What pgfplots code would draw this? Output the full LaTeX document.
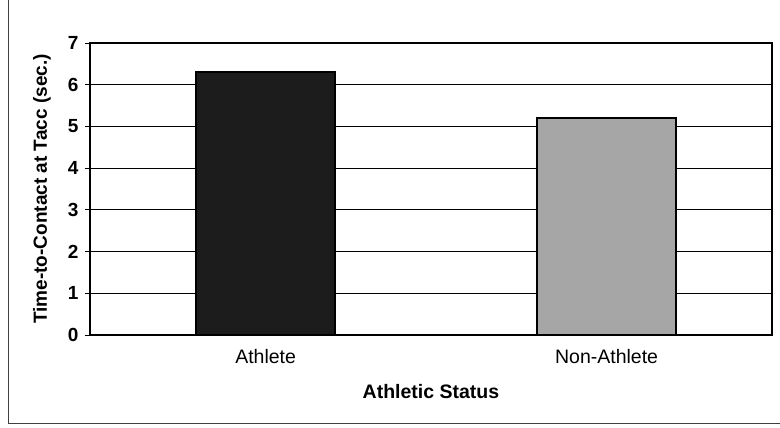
\documentclass[border=0pt]{standalone}
\usepackage{pgfplots}
\pgfplotsset{compat=1.18}
\usepackage{fontspec}
\setmainfont{Liberation Sans}
\definecolor{athl}{HTML}{1C1C1C}
\definecolor{nonathl}{HTML}{A6A6A6}
\begin{document}
\begin{tikzpicture}
\useasboundingbox (0,0) rectangle (780pt,428pt);
\draw[line width=0.8pt, black!75] (8pt,428pt) -- (8pt,5pt) -- (780pt,5pt);
\begin{axis}[
  at={(90pt,93pt)}, anchor=south west,
  scale only axis, width=682pt, height=292pt,
  xmin=-0.015, xmax=1.985, ymin=0, ymax=7,
  ytick={0,1,...,7},
  xtick={0.5,1.5}, xticklabels={Athlete,Non-Athlete},
  xtick style={draw=none},
  ytick pos=left, tick align=outside, major tick length=5pt,
  tick style={black, line width=0.9pt},
  ymajorgrids, grid style={black, line width=0.8pt},
  axis line style={black, line width=1.8pt},
  /pgf/number format/assume math mode=true,
  yticklabel style={font=\fontsize{19}{22}\selectfont\bfseries, xshift=-3pt},
  xticklabel style={font=\fontsize{19.5}{22}\selectfont, yshift=-6pt},
  xlabel={Athletic Status},
  xlabel style={font=\fontsize{19.5}{22}\selectfont\bfseries, at={(axis description cs:0.5,0)}, anchor=center, yshift=-57pt},
  ylabel={Time-to-Contact at Tacc (sec.)},
  ylabel style={font=\fontsize{19}{22}\selectfont\bfseries, at={(axis description cs:-0.0704,0.5)}, anchor=center},
  ybar, bar width=139pt, bar shift=0pt,
]
\addplot[fill=athl, draw=black, line width=1.5pt] coordinates {(0.5,6.3)};
\addplot[fill=nonathl, draw=black, line width=1.5pt] coordinates {(1.5,5.2)};
\end{axis}
\end{tikzpicture}
\end{document}
